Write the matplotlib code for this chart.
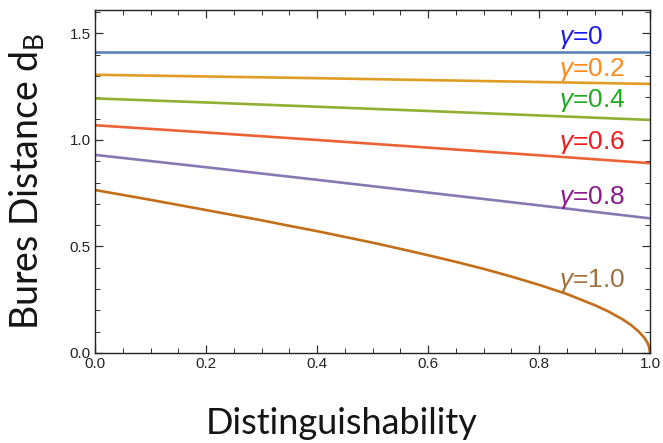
import matplotlib
matplotlib.use("Agg")
import matplotlib.pyplot as plt
from matplotlib.ticker import MultipleLocator

# values
x_lin = [0.0, 0.2, 0.4, 0.6, 0.8, 1.0]
d_g00 = [1.414, 1.414, 1.414, 1.414, 1.414, 1.414]
d_g02 = [1.306, 1.298, 1.290, 1.281, 1.272, 1.263]
d_g04 = [1.195, 1.176, 1.156, 1.136, 1.115, 1.094]
d_g06 = [1.069, 1.035, 1.000, 0.964, 0.928, 0.891]
d_g08 = [0.930, 0.872, 0.813, 0.753, 0.693, 0.632]

x_g10 = [0.0, 0.05, 0.1, 0.15, 0.2, 0.25, 0.3, 0.35, 0.4, 0.45, 0.5, 0.55, 0.6, 0.65,
         0.7, 0.75, 0.8, 0.85, 0.9, 0.925, 0.95, 0.965, 0.98, 0.99, 0.995, 0.998, 1.0]
d_g10 = [0.765, 0.742, 0.719, 0.695, 0.671, 0.647, 0.623, 0.597, 0.572, 0.545, 0.518,
         0.489, 0.459, 0.428, 0.395, 0.359, 0.320, 0.277, 0.225, 0.195, 0.159, 0.133,
         0.100, 0.071, 0.050, 0.032, 0.0]

gammas = ["0", "0.2", "0.4", "0.6", "0.8", "1.0"]
label_y = [1.481, 1.329, 1.183, 0.986, 0.732, 0.338]

line_colors = ["#5E81B5", "#E19C24", "#8FB032", "#EB6235", "#8778B3", "#C56E1A"]
text_colors = ["#1A1AF0", "#FF8A1A", "#22AA22", "#F01A1A", "#8A1A8A", "#A0703C"]

plt.rcParams["mathtext.fontset"] = "custom"
plt.rcParams["mathtext.it"] = "Liberation Sans:italic"
plt.rcParams["mathtext.rm"] = "Lato"

fig = plt.figure(figsize=(6.63, 4.43), dpi=100)
ax = fig.add_axes([95 / 663, 1 - 353 / 443, 555 / 663, 343 / 443])

series = [(x_lin, d_g00), (x_lin, d_g02), (x_lin, d_g04), (x_lin, d_g06), (x_lin, d_g08), (x_g10, d_g10)]
for (xs, ys), c in zip(series, line_colors):
    ax.plot(xs, ys, color=c, lw=1.9, solid_capstyle="butt")

for g, ly, c in zip(gammas, label_y, text_colors):
    ax.text(0.836, ly, "$\\mathit{\u03b3}$=" + g, color=c, fontsize=19, va="center", ha="left",
            family="Liberation Sans")

ax.set_xlim(0, 1)
ax.set_ylim(0, 1.61)
ax.xaxis.set_major_locator(MultipleLocator(0.2))
ax.xaxis.set_minor_locator(MultipleLocator(0.05))
ax.yaxis.set_major_locator(MultipleLocator(0.5))
ax.yaxis.set_minor_locator(MultipleLocator(0.1))
ax.xaxis.set_major_formatter(plt.FormatStrFormatter("%.1f"))
ax.yaxis.set_major_formatter(plt.FormatStrFormatter("%.1f"))
ax.tick_params(which="both", direction="in", top=True, right=True, labelsize=11,
               color="#333333", labelcolor="#222222")
ax.tick_params(which="major", length=6, width=0.9, pad=3)
ax.tick_params(which="minor", length=3.5, width=0.7)
for lab in ax.get_xticklabels() + ax.get_yticklabels():
    lab.set_family("Liberation Sans")
for sp in ax.spines.values():
    sp.set_color("#222222")
    sp.set_linewidth(1.0)

fig.text(27 / 663, 1 - 181 / 443, "Bures Distance d$_\\mathrm{B}$", rotation=90,
         fontsize=27, family="Lato", ha="center", va="center", color="#151515")
fig.text(342 / 663, 1 - 424 / 443, "Distinguishability", fontsize=26, family="Lato",
         ha="center", va="center", color="#151515")

fig.savefig("out.png", dpi=100)
